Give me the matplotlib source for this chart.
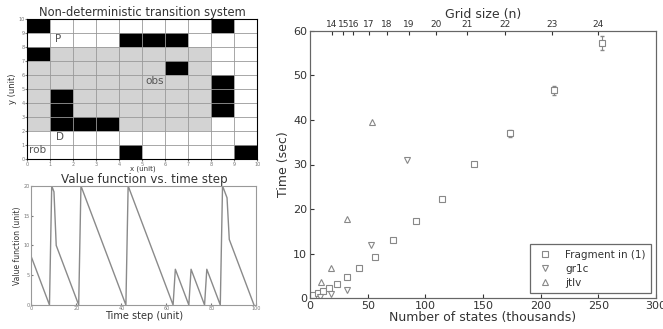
import numpy as np
import matplotlib
matplotlib.use('Agg')
import matplotlib.pyplot as plt
from matplotlib.patches import Rectangle

# grid world cells (lower-left corners)
black_cells = [(0, 9), (8, 9), (4, 8), (5, 8), (6, 8), (0, 7), (6, 6),
               (8, 5), (8, 4), (8, 3), (1, 4), (1, 3), (1, 2), (2, 2), (3, 2),
               (4, 0), (9, 0)]
grid_labels = [('P', 1.35, 8.6), ('obs', 5.55, 5.6), ('D', 1.4, 1.55), ('rob', 0.45, 0.65)]

# value function vs time step
vf_t = [0, 8, 9, 10, 11, 21, 22, 42, 43, 63, 64, 70, 71, 77, 78, 84, 85, 86, 87, 88, 99]
vf_v = [8, 0, 20, 19, 10, 0, 20, 0, 20, 0, 6, 0, 6, 0, 6, 0, 20, 19, 18, 11, 0]

# timing results
frag_x = [2.9, 7.0, 11.5, 16.5, 23.0, 31.8, 42.8, 56.4, 72.2, 91.6, 114.7, 142.2, 173.4, 211.3, 253.4]
frag_y = [0.8, 1.3, 1.6, 2.3, 3.3, 4.8, 6.8, 9.2, 13.1, 17.3, 22.2, 30.2, 37.0, 46.6, 57.2]
frag_err = [0, 0, 0, 0, 0, 0, 0, 0, 0, 0, 0, 0, 0.8, 1.1, 1.6]
gr1c_x = [8.7, 18.2, 31.8, 52.6, 83.8]
gr1c_y = [0.4, 1.0, 1.9, 12.0, 31.0]
jtlv_x = [9.3, 18.2, 31.8, 53.5]
jtlv_y = [3.6, 6.9, 17.8, 39.6]

grid_n = [14, 15, 16, 17, 18, 19, 20, 21, 22, 23, 24]
grid_pos = [18.8, 28.9, 37.6, 51.2, 66.5, 85.8, 109, 135.8, 169.4, 209.5, 250]

txt = '#333333'
fig = plt.figure(figsize=(6.63, 3.29), dpi=100)

# --- grid world ---
ax1 = fig.add_axes([0.0412, 0.517, 0.347, 0.4255])
ax1.add_patch(Rectangle((0, 2), 8, 6, facecolor='#d3d3d3', edgecolor='none', zorder=0))
for (cx, cy) in black_cells:
    ax1.add_patch(Rectangle((cx, cy), 1, 1, facecolor='black', edgecolor='none', zorder=1))
for k in range(11):
    ax1.axvline(k, color='#999999', lw=0.6, zorder=2)
    ax1.axhline(k, color='#999999', lw=0.6, zorder=2)
for s, gx, gy in grid_labels:
    ax1.text(gx, gy, s, fontsize=7.5, color='#555555', ha='center', va='center', zorder=3)
ax1.set_xlim(0, 10)
ax1.set_ylim(0, 10)
ax1.set_xticks(range(11))
ax1.set_yticks(range(11))
ax1.tick_params(labelsize=3.5, length=1.5, colors='#777777', pad=0.5)
ax1.set_title('Non-deterministic transition system', fontsize=8.3, color=txt, pad=1)
ax1.set_xlabel('x (unit)', fontsize=5, color=txt, labelpad=-1)
ax1.set_ylabel('y (unit)', fontsize=6, color=txt, labelpad=1)

# --- value function ---
ax2 = fig.add_axes([0.0475, 0.073, 0.339, 0.362])
ax2.plot(vf_t, vf_v, color='#8a8a8a', lw=1.0)
ax2.set_xlim(0, 100)
ax2.set_ylim(0, 20)
ax2.set_xticks([0, 20, 40, 60, 80, 100])
ax2.set_yticks([0, 5, 10, 15, 20])
ax2.tick_params(labelsize=3.5, length=1.5, colors='#777777', pad=1, direction='in')
ax2.set_title('Value function vs. time step', fontsize=8.6, color=txt, pad=0)
ax2.set_xlabel('Time step (unit)', fontsize=7, color=txt, labelpad=0)
ax2.set_ylabel('Value function (unit)', fontsize=5.5, color=txt, labelpad=1)
for sp in ax2.spines.values():
    sp.set_color('#999999')

# --- timing ---
ax3 = fig.add_axes([0.4676, 0.0933, 0.5219, 0.8134])
mk = dict(mfc='white', mec='#888888', mew=0.8, ms=5, ls='none')
ax3.errorbar(frag_x, frag_y, yerr=frag_err, fmt='none', ecolor='#888888',
             elinewidth=0.8, capsize=1.5)
ax3.plot(frag_x, frag_y, marker='s', label='Fragment in (1)', **mk)
ax3.plot(gr1c_x, gr1c_y, marker='v', label='gr1c', **mk)
ax3.plot(jtlv_x, jtlv_y, marker='^', label='jtlv', **mk)
ax3.set_xlim(0, 300)
ax3.set_ylim(0, 60)
ax3.set_xticks(np.arange(0, 301, 50))
ax3.set_yticks(np.arange(0, 61, 10))
ax3.tick_params(labelsize=8, direction='in', length=3, colors=txt, pad=2)
ax3.set_xlabel('Number of states (thousands)', fontsize=9, color=txt, labelpad=0)
ax3.set_ylabel('Time (sec)', fontsize=9, color=txt, labelpad=2)
leg = ax3.legend(loc='lower right', numpoints=1, fontsize=7.5, fancybox=False,
                 borderpad=0.5, handletextpad=0.9, labelspacing=0.4)
leg.get_frame().set_edgecolor('#444444')
leg.get_frame().set_linewidth(0.9)
for t in leg.get_texts():
    t.set_color(txt)

ax4 = ax3.twiny()
ax4.set_xlim(0, 300)
ax4.set_xticks(grid_pos)
ax4.set_xticklabels([str(n) for n in grid_n])
ax4.tick_params(labelsize=6.5, direction='in', length=3, colors=txt, pad=1)
ax4.set_xlabel('Grid size (n)', fontsize=9, color=txt, labelpad=2)
for a in (ax3, ax4):
    for sp in a.spines.values():
        sp.set_color('#666666')

fig.savefig('out.png', dpi=100)
